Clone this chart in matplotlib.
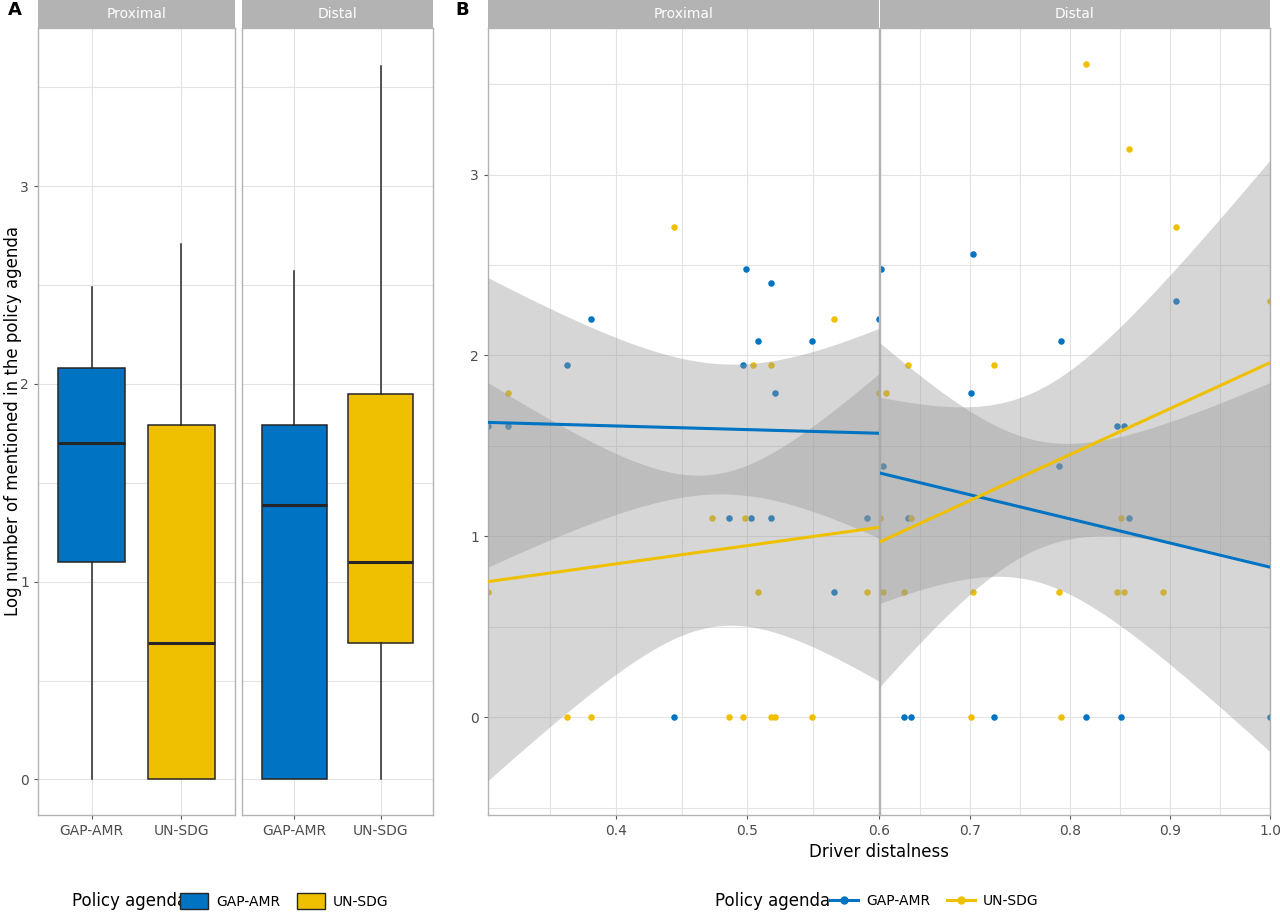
import matplotlib
matplotlib.use("Agg")
import matplotlib.pyplot as plt
import numpy as np
from matplotlib.patches import Patch
from matplotlib.lines import Line2D

BLUE = "#0073C2"
YELLOW = "#EFC000"
GRID = "#E3E3E3"
BORDER = "#B3B3B3"
STRIP = "#B3B3B3"

facets = ["Proximal", "Distal"]
agendas = ["GAP-AMR", "UN-SDG"]

# panel A box statistics: (whislo, q1, med, q3, whishi)
box_stats = {
    "Proximal": {"GAP-AMR": (0.0, 1.10, 1.70, 2.08, 2.49), "UN-SDG": (0.0, 0.0, 0.69, 1.79, 2.71)},
    "Distal": {"GAP-AMR": (0.0, 0.0, 1.39, 1.79, 2.57), "UN-SDG": (0.0, 0.69, 1.10, 1.95, 3.61)},
}

# panel B points
prox_gap_x = [0.303, 0.318, 0.363, 0.381, 0.444, 0.499, 0.497, 0.508, 0.518, 0.521, 0.549, 0.600,
              0.486, 0.503, 0.518, 0.591, 0.566]
prox_gap_y = [1.61, 1.61, 1.95, 2.20, 0.0, 2.48, 1.95, 2.08, 2.40, 1.79, 2.08, 2.20,
              1.10, 1.10, 1.10, 1.10, 0.69]
prox_un_x = [0.303, 0.318, 0.363, 0.381, 0.444, 0.473, 0.498, 0.504, 0.518, 0.508, 0.566, 0.591,
             0.600, 0.486, 0.497, 0.518, 0.521, 0.549]
prox_un_y = [0.69, 1.79, 0.0, 0.0, 2.71, 1.10, 1.10, 1.95, 1.95, 0.69, 2.20, 0.69,
             1.79, 0.0, 0.0, 0.0, 0.0, 0.0]
dist_gap_x = [0.611, 0.703, 0.701, 0.791, 0.906, 0.847, 0.854, 0.613, 0.789, 0.638, 0.859,
              0.634, 0.641, 0.724, 0.816, 0.851, 1.000]
dist_gap_y = [2.48, 2.56, 1.79, 2.08, 2.30, 1.61, 1.61, 1.39, 1.39, 1.10, 1.10,
              0.0, 0.0, 0.0, 0.0, 0.0, 0.0]
dist_un_x = [0.816, 0.859, 0.906, 1.000, 0.638, 0.724, 0.616, 0.610, 0.641, 0.851, 0.613,
             0.634, 0.703, 0.789, 0.847, 0.854, 0.893, 0.701, 0.791]
dist_un_y = [3.61, 3.14, 2.71, 2.30, 1.95, 1.95, 1.79, 1.10, 1.10, 1.10, 0.69,
             0.69, 0.69, 0.69, 0.69, 0.69, 0.69, 0.0, 0.0]

# fitted lines and confidence half-widths at (left, middle, right)
fit_x = {"Proximal": (0.303, 0.49, 0.600), "Distal": (0.610, 0.74, 1.000)}
fit_line = {
    ("Proximal", "GAP-AMR"): (1.63, 1.57), ("Proximal", "UN-SDG"): (0.75, 1.05),
    ("Distal", "GAP-AMR"): (1.35, 0.83), ("Distal", "UN-SDG"): (0.97, 1.96),
}
fit_hw = {
    ("Proximal", "GAP-AMR"): (0.80, 0.36, 0.58), ("Proximal", "UN-SDG"): (1.10, 0.43, 0.85),
    ("Distal", "GAP-AMR"): (0.72, 0.40, 1.02), ("Distal", "UN-SDG"): (0.80, 0.45, 1.12),
}
points = {
    ("Proximal", "GAP-AMR"): (prox_gap_x, prox_gap_y), ("Proximal", "UN-SDG"): (prox_un_x, prox_un_y),
    ("Distal", "GAP-AMR"): (dist_gap_x, dist_gap_y), ("Distal", "UN-SDG"): (dist_un_x, dist_un_y),
}
colors = {"GAP-AMR": BLUE, "UN-SDG": YELLOW}

W, H = 1280, 914
fig = plt.figure(figsize=(12.8, 9.14), dpi=100)


def fa(x0, x1, y0, y1):
    return [x0 / W, 1 - y1 / H, (x1 - x0) / W, (y1 - y0) / H]


def style(ax):
    ax.set_facecolor("white")
    for s in ax.spines.values():
        s.set_color(BORDER)
        s.set_linewidth(1.0)
    ax.tick_params(colors="#555555", labelsize=10, length=3, labelcolor="#4D4D4D")
    ax.grid(True, which="both", color=GRID, linewidth=0.8)
    ax.set_axisbelow(True)


def strip(x0, x1, label):
    s = fig.add_axes(fa(x0, x1, 0, 28))
    s.set_facecolor(STRIP)
    s.set_xticks([]); s.set_yticks([])
    for sp in s.spines.values():
        sp.set_visible(False)
    s.text(0.5, 0.5, label, color="white", fontsize=10, ha="center", va="center", transform=s.transAxes)


# Panel A
a_ranges = [(38, 235), (242, 433)]
for i, (facet, (x0, x1)) in enumerate(zip(facets, a_ranges)):
    ax = fig.add_axes(fa(x0, x1, 28, 815))
    style(ax)
    stats = []
    for ag in agendas:
        lo, q1, med, q3, hi = box_stats[facet][ag]
        stats.append(dict(whislo=lo, q1=q1, med=med, q3=q3, whishi=hi, fliers=[]))
    bp = ax.bxp(stats, positions=[1, 2], widths=0.75, patch_artist=True, showcaps=False,
                medianprops=dict(color="#262626", linewidth=2.2),
                whiskerprops=dict(color="#262626", linewidth=1.1),
                boxprops=dict(edgecolor="#262626", linewidth=1.1))
    for patch, ag in zip(bp["boxes"], agendas):
        patch.set_facecolor(colors[ag])
    ax.set_xlim(0.4, 2.6)
    ax.set_ylim(-0.18, 3.8)
    ax.set_xticks([1, 2])
    ax.set_xticklabels(agendas)
    ax.set_yticks([0, 1, 2, 3])
    ax.set_yticks([0.5, 1.5, 2.5, 3.5], minor=True)
    ax.tick_params(which="minor", length=0)
    ax.xaxis.grid(True, which="major")
    if i == 1:
        ax.tick_params(axis="y", labelleft=False, length=0)
    strip(x0, x1, facet)

fig.text(13 / W, 1 - 421 / H, "Log number of mentioned in the policy agenda", fontsize=12,
         rotation=90, ha="center", va="center")

# Panel B
b_ranges = [(488, 879), (880, 1270)]
b_xlims = {"Proximal": (0.303, 0.600), "Distal": (0.610, 1.000)}
b_ticks = {"Proximal": [0.4, 0.5, 0.6], "Distal": [0.7, 0.8, 0.9, 1.0]}
b_minor = {"Proximal": [0.35, 0.45, 0.55], "Distal": [0.65, 0.75, 0.85, 0.95]}
for i, (facet, (x0, x1)) in enumerate(zip(facets, b_ranges)):
    ax = fig.add_axes(fa(x0, x1, 28, 815))
    style(ax)
    for ag in agendas:
        px, py = points[(facet, ag)]
        ax.scatter(px, py, s=22, color=colors[ag], zorder=2, linewidths=0)
    for ag in agendas:
        xs3 = np.array(fit_x[facet])
        hw = np.array(fit_hw[(facet, ag)])
        coef = np.polyfit(xs3, hw ** 2, 2)
        xx = np.linspace(xs3[0], xs3[-1], 100)
        y0, y1 = fit_line[(facet, ag)]
        yy = y0 + (y1 - y0) * (xx - xs3[0]) / (xs3[-1] - xs3[0])
        h = np.sqrt(np.clip(np.polyval(coef, xx), 0, None))
        ax.fill_between(xx, yy - h, yy + h, color="#999999", alpha=0.4, linewidth=0, zorder=3)
        ax.plot(xx, yy, color=colors[ag], linewidth=2.2, zorder=4)
    ax.set_xlim(*b_xlims[facet])
    ax.set_ylim(-0.54, 3.81)
    ax.set_xticks(b_ticks[facet])
    ax.set_xticks(b_minor[facet], minor=True)
    ax.set_yticks([0, 1, 2, 3])
    ax.set_yticks([-0.5, 0.5, 1.5, 2.5, 3.5], minor=True)
    ax.tick_params(which="minor", length=0)
    if i == 1:
        ax.tick_params(axis="y", labelleft=False, length=0)
    strip(x0, x1, facet)

fig.text(879 / W, 1 - 852 / H, "Driver distalness", fontsize=12, ha="center", va="center")
fig.text(8 / W, 1 - 10 / H, "A", fontsize=13, fontweight="bold", ha="left", va="center")
fig.text(455 / W, 1 - 10 / H, "B", fontsize=13, fontweight="bold", ha="left", va="center")

# legends
fig.text(72 / W, 1 - 901 / H, "Policy agenda", fontsize=12, ha="left", va="center")
hA = [Patch(facecolor=colors[ag], edgecolor="#262626", label=ag) for ag in agendas]
fig.legend(handles=hA, loc="center left", bbox_to_anchor=(180 / W, 1 - 901 / H), ncol=2,
           frameon=False, fontsize=10, handlelength=2.0, handleheight=1.4, columnspacing=1.2,
           handletextpad=0.6, borderpad=0, borderaxespad=0)
fig.text(715 / W, 1 - 901 / H, "Policy agenda", fontsize=12, ha="left", va="center")
hB = [Line2D([0], [0], color=colors[ag], marker="o", markersize=5, linewidth=2.2, label=ag) for ag in agendas]
fig.legend(handles=hB, loc="center left", bbox_to_anchor=(830 / W, 1 - 901 / H), ncol=2,
           frameon=False, fontsize=10, handlelength=2.0, columnspacing=1.2,
           handletextpad=0.6, borderpad=0, borderaxespad=0)

fig.savefig("out.png", dpi=100)
